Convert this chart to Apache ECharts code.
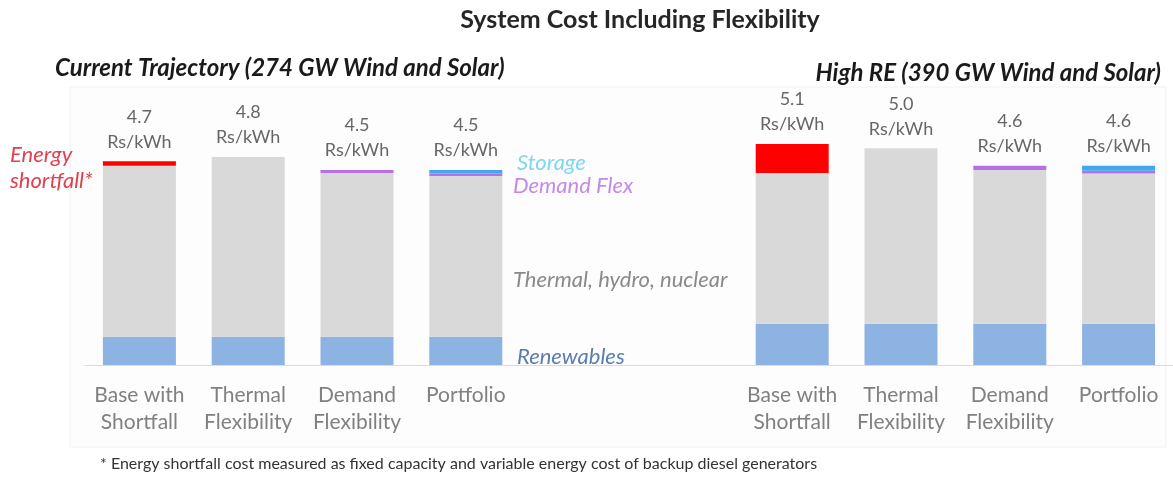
<!DOCTYPE html>
<html>
<head>
<meta charset="utf-8">
<title>System Cost Including Flexibility</title>
<script src="https://cdn.jsdelivr.net/npm/echarts@6/dist/echarts.min.js"></script>
<style>
  html, body { margin: 0; padding: 0; background: #ffffff; }
  #chart { width: 1173px; height: 477px; }
</style>
</head>
<body>
<div id="chart"></div>
<script>
// Scenario columns: four cases per capacity pathway, two empty slots between the groups
const categories = [
  'Base with\nShortfall', 'Thermal\nFlexibility', 'Demand\nFlexibility', 'Portfolio',
  '', '',
  'Base with\nShortfall', 'Thermal\nFlexibility', 'Demand\nFlexibility', 'Portfolio'
];

// Cost components, Rs/kWh ('-' = no segment / empty slot)
const renewables = [0.65, 0.65, 0.65, 0.65, '-', '-', 0.95, 0.95, 0.95, 0.95];
const thermal    = [3.95, 4.15, 3.78, 3.71, '-', '-', 3.48, 4.05, 3.55, 3.47];
const demandFlex = ['-', '-', 0.07, 0.06, '-', '-', '-', '-', 0.10, 0.06];
const storage    = ['-', '-', '-', 0.08, '-', '-', '-', '-', '-', 0.12];
const shortfall  = [0.10, '-', '-', '-', '-', '-', 0.67, '-', '-', '-'];

const unitLabel = 'Rs/kWh';

const num = v => (typeof v === 'number' ? v : 0);
const totals = categories.map((c, i) => {
  if (!c) return '-';
  const s = num(renewables[i]) + num(thermal[i]) + num(demandFlex[i]) + num(storage[i]) + num(shortfall[i]);
  return Math.round(s * 10) / 10;
});

const FONT = 'Lato, "Open Sans", "DejaVu Sans", sans-serif';

const chart = echarts.init(document.getElementById('chart'), null, { renderer: 'canvas' });

const barBase = { type: 'bar', stack: 'cost', barWidth: 73, silent: true };

chart.setOption({
  animation: false,
  backgroundColor: '#ffffff',
  grid: { left: 85, top: 105, width: 1097, bottom: 112, containLabel: false },
  xAxis: {
    type: 'category',
    data: categories,
    boundaryGap: true,
    axisLine: { show: true, lineStyle: { color: '#dcdcdc', width: 1 } },
    axisTick: { show: false },
    axisLabel: {
      interval: 0, margin: 17, color: '#808080',
      fontFamily: FONT, fontSize: 21, lineHeight: 27
    },
    splitLine: { show: false }
  },
  yAxis: { type: 'value', min: 0, max: 6, show: false, splitLine: { show: false } },
  graphic: [
    { type: 'rect', z: -10, silent: true,
      shape: { x: 70, y: 87, width: 1096, height: 360 },
      style: { fill: '#fdfdfd', stroke: '#f1f1f1', lineWidth: 1 } },
    { type: 'text', silent: true, style: { text: 'System Cost Including Flexibility', x: 640, y: 20,
      textAlign: 'center', textVerticalAlign: 'middle', fill: '#262626', font: 'bold 25px ' + FONT } },
    { type: 'text', silent: true, style: { text: 'Current Trajectory (274 GW Wind and Solar)', x: 55, y: 68,
      textAlign: 'left', textVerticalAlign: 'middle', fill: '#1a1a1a', font: 'italic bold 24px ' + FONT } },
    { type: 'text', silent: true, style: { text: 'High RE (390 GW Wind and Solar)', x: 1161, y: 73,
      textAlign: 'right', textVerticalAlign: 'middle', fill: '#1a1a1a', font: 'italic bold 24px ' + FONT } },
    { type: 'text', silent: true, style: { text: 'Energy\nshortfall*', x: 10, y: 168, lineHeight: 26,
      textAlign: 'left', textVerticalAlign: 'middle', fill: '#e0404f', font: 'italic 22px ' + FONT } },
    { type: 'text', silent: true, style: { text: 'Storage', x: 517, y: 163,
      textAlign: 'left', textVerticalAlign: 'middle', fill: '#7fd6f2', font: 'italic 22px ' + FONT } },
    { type: 'text', silent: true, style: { text: 'Demand Flex', x: 513, y: 186,
      textAlign: 'left', textVerticalAlign: 'middle', fill: '#c58ae8', font: 'italic 22px ' + FONT } },
    { type: 'text', silent: true, style: { text: 'Thermal, hydro, nuclear', x: 513, y: 280,
      textAlign: 'left', textVerticalAlign: 'middle', fill: '#8a8a8a', font: 'italic 22px ' + FONT } },
    { type: 'text', silent: true, style: { text: 'Renewables', x: 517, y: 357,
      textAlign: 'left', textVerticalAlign: 'middle', fill: '#5c7cae', font: 'italic 22px ' + FONT } },
    { type: 'text', silent: true, style: {
      text: '* Energy shortfall cost measured as fixed capacity and variable energy cost of backup diesel generators',
      x: 100, y: 464, textAlign: 'left', textVerticalAlign: 'middle', fill: '#333333', font: '16px ' + FONT } }
  ],
  series: [
    Object.assign({ name: 'Renewables', data: renewables, itemStyle: { color: '#8db3e2' } }, barBase),
    Object.assign({ name: 'Thermal, hydro, nuclear', data: thermal, itemStyle: { color: '#d9d9d9' } }, barBase),
    Object.assign({ name: 'Demand Flex', data: demandFlex, itemStyle: { color: '#b86fe6' } }, barBase),
    Object.assign({ name: 'Storage', data: storage, itemStyle: { color: '#3fa9f0' } }, barBase),
    Object.assign({ name: 'Energy shortfall', data: shortfall, itemStyle: { color: '#ff0000' } }, barBase),
    {
      name: 'Total', type: 'scatter', data: totals, symbolSize: 0, silent: true, z: 5,
      label: {
        show: true, position: 'top', distance: 7,
        color: '#404040', fontFamily: FONT, fontSize: 18, lineHeight: 25,
        formatter: p => p.value.toFixed(1) + '\n' + unitLabel
      }
    }
  ]
});
</script>
</body>
</html>
